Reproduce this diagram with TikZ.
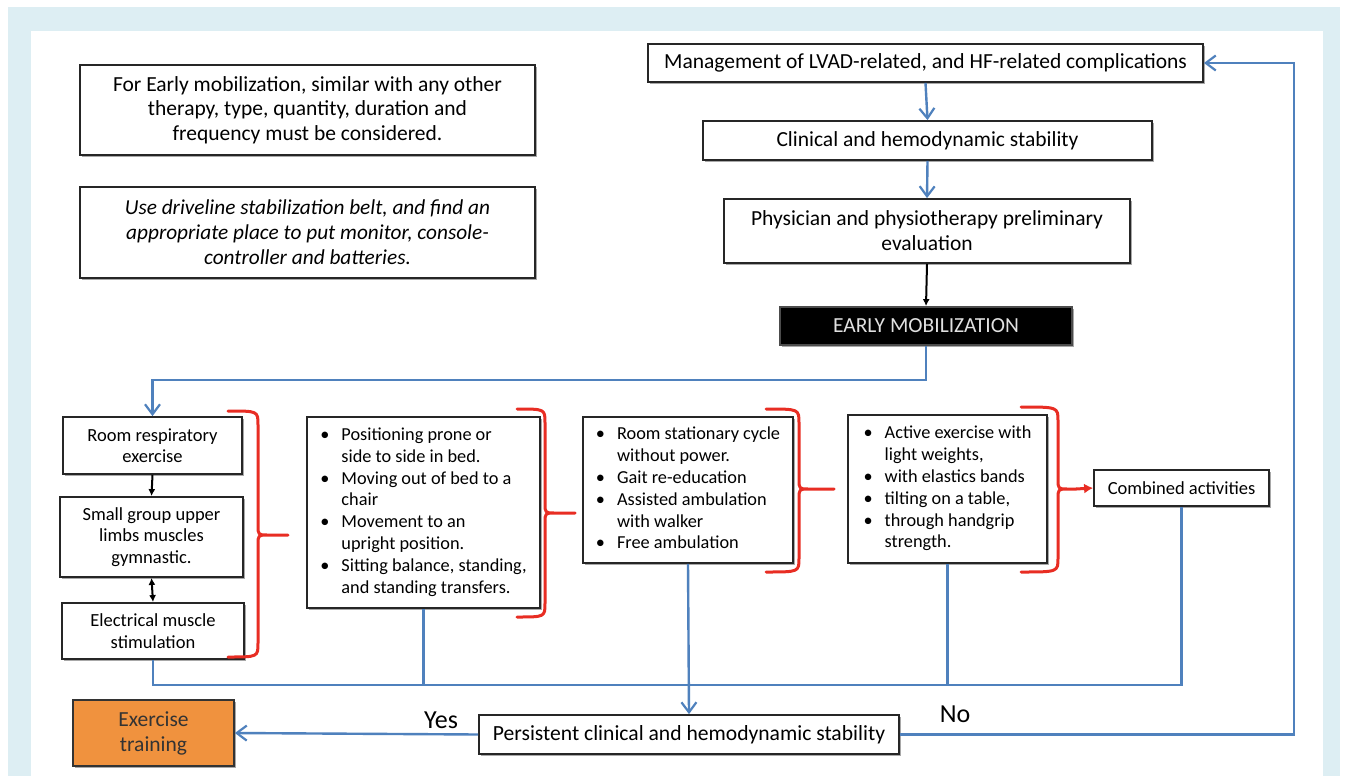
\documentclass[tikz,border=0pt]{standalone}
\usepackage{fontspec}
\setmainfont{Carlito}
\usetikzlibrary{arrows.meta,shadows}
\definecolor{bgblue}{RGB}{221,238,243}
\definecolor{lineblue}{RGB}{79,129,189}
\definecolor{bracered}{RGB}{232,45,35}
\definecolor{exorange}{RGB}{240,146,62}
\definecolor{shadowgray}{RGB}{110,110,110}
\newcommand\myredbrace[6]{%
  \draw[brace] (#1,#4) .. controls (#2,#4) .. (#2,#4+14) -- (#2,#5-10)
    .. controls (#2,#5) .. (#2+10,#5) -- (#3,#5) -- (#2+10,#5)
    .. controls (#2,#5) .. (#2,#5+10) -- (#2,#6-14) .. controls (#2,#6) .. (#1,#6);}
\begin{document}
\begin{tikzpicture}[x=1pt,y=-1pt,
  box/.style={draw=black!85, line width=1.8pt, fill=white, inner sep=0pt, align=center,
    drop shadow={shadow xshift=2pt,shadow yshift=-2pt,fill=shadowgray,opacity=0.6}},
  bl/.style={draw=lineblue, line width=2.4pt},
  blarr/.style={bl, -{Straight Barb[length=10pt,width=15pt,line width=2.2pt]}},
  blkarr/.style={draw=black, line width=2pt, -{Latex[length=7pt,width=7pt]}},
  blkdbl/.style={draw=black, line width=2pt, {Latex[length=7pt,width=7pt]}-{Latex[length=7pt,width=7pt]}},
  brace/.style={draw=bracered, line width=3pt, line cap=round, line join=round},
  redarr/.style={draw=bracered, line width=3pt, -{Latex[length=9pt,width=10pt]}},
  mainf/.style={font=\fontsize{21.5}{25}\selectfont},
  colf/.style={font=\fontsize{18.5}{21.5}\selectfont},
  bulf/.style={font=\fontsize{18.3}{21.8}\selectfont},
  lbl/.style={font=\fontsize{26}{30}\selectfont}
]
\useasboundingbox (0,0) rectangle (1348,776);
\fill[white] (0,0) rectangle (1348,776);
\fill[bgblue] (8,7) rectangle (1340,776);
\fill[white] (31,31) rectangle (1323,776);

% top-left notes
\node[box, minimum width=455pt, minimum height=90pt, font=\fontsize{21.5}{24.7}\selectfont] (A) at (307.5,110)
  {For Early mobilization, similar with any other\\ therapy, type, quantity, duration and\\ frequency must be considered.};
\node[box, minimum width=455pt, minimum height=91pt, font=\fontsize{21.3}{25}\selectfont\itshape] (B) at (307.5,232.5)
  {Use driveline stabilization belt, and find an\\ appropriate place to put monitor, console-\\ controller and batteries.};

% top-right chain
\node[box, mainf, minimum width=555pt, minimum height=38pt] (M) at (925.5,63)
  {Management of LVAD-related, and HF-related complications};
\node[box, mainf, minimum width=449pt, minimum height=39pt] (C) at (927.5,140.5)
  {Clinical and hemodynamic stability};
\node[box, mainf, minimum width=406pt, minimum height=64pt] (P) at (927,231)
  {Physician and physiotherapy preliminary\\ evaluation};
\node[box, fill=black, draw=black!70, text=white!88!black, font=\fontsize{21.5}{24}\selectfont,
  minimum width=292pt, minimum height=38pt] (E) at (926,326) {EARLY MOBILIZATION};

\draw[blarr] (M.south) -- (C.north);
\draw[blarr] (C.south) -- (P.north);
\draw[blkarr] (P.south) -- (E.north);

% left column
\node[box, colf, minimum width=179pt, minimum height=57pt] (R1) at (152.5,445.5) {Room respiratory\\ exercise};
\node[box, colf, minimum width=183pt, minimum height=80pt] (R2) at (151.5,537) {Small group upper\\ limbs muscles\\ gymnastic.};
\node[box, colf, minimum width=182pt, minimum height=56pt] (R3) at (153,631) {Electrical muscle\\ stimulation};
\draw[blkarr] (R1.south) -- (R2.north);
\draw[blkdbl] (R2.south) -- (R3.north);

\coordinate (j1) at (152.5,380);
\draw[blarr] (E.south) |- (j1) -- (R1.north);

% bullet boxes
\node[box, bulf, minimum width=233pt, minimum height=191pt] (Q1) at (423.5,512.5) {%
  \begin{tabular}{@{}l@{\hspace{12pt}}l@{}}
  \textbullet & Positioning prone or\\
   & side to side in bed.\\
  \textbullet & Moving out of bed to a\\
   & chair\\
  \textbullet & Movement to an\\
   & upright position.\\
  \textbullet & Sitting balance, standing,\\
   & and standing transfers.
  \end{tabular}};
\node[box, bulf, minimum width=210pt, minimum height=146pt] (Q2) at (688,490) {%
  \begin{tabular}{@{}l@{\hspace{12pt}}l@{}}
  \textbullet & Room stationary cycle\\
   & without power.\\
  \textbullet & Gait re-education\\
  \textbullet & Assisted ambulation\\
   & with walker\\
  \textbullet & Free ambulation
  \end{tabular}};
\node[box, bulf, minimum width=199pt, minimum height=148pt] (Q3) at (947.5,489) {%
  \begin{tabular}{@{}l@{\hspace{12pt}}l@{}}
  \textbullet & Active exercise with\\
   & light weights,\\
  \textbullet & with elastics bands\\
  \textbullet & tilting on a table,\\
  \textbullet & through handgrip\\
   & strength.
  \end{tabular}};
\node[box, font=\fontsize{18.5}{21}\selectfont, minimum width=175pt, minimum height=36pt] (CA) at (1181.5,488) {Combined activities};

% braces
\myredbrace{228}{258}{288}{411}{535}{657}
\myredbrace{517}{545}{575}{409}{513}{617}
\myredbrace{766}{799}{834}{409}{489}{572}
\myredbrace{1021}{1058}{1076}{407}{489}{572}
\coordinate (b4tip) at (1076,489);
\draw[redarr] (b4tip) -- (CA.west);

% bottom
\node[box, font=\fontsize{21.6}{25}\selectfont, minimum width=420pt, minimum height=39pt] (PS) at (689,734.5)
  {Persistent clinical and hemodynamic stability};
\node[box, fill=exorange, draw=black!80, text=black!80, font=\fontsize{21.5}{25}\selectfont,
  minimum width=161pt, minimum height=66pt] (EX) at (153.5,733) {Exercise\\ training};

\coordinate (bus) at (0,685);
\draw[bl] (R3.south) |- (CA.south |- bus) -- (CA.south);
\draw[bl] (Q1.south) -- (Q1.south |- bus);
\draw[bl] (Q3.south) -- (Q3.south |- bus);
\draw[blarr] (Q2.south) -- (PS.north);

\draw[blarr] (PS.west) -- (EX.east);
\node[lbl] (yes) at (441,720) {Yes};
\node[lbl] (no) at (955,714) {No};

\coordinate (rc) at (1294,0);
\draw[blarr] (PS.east) -| (rc |- M.east) -- (M.east);
\end{tikzpicture}
\end{document}
